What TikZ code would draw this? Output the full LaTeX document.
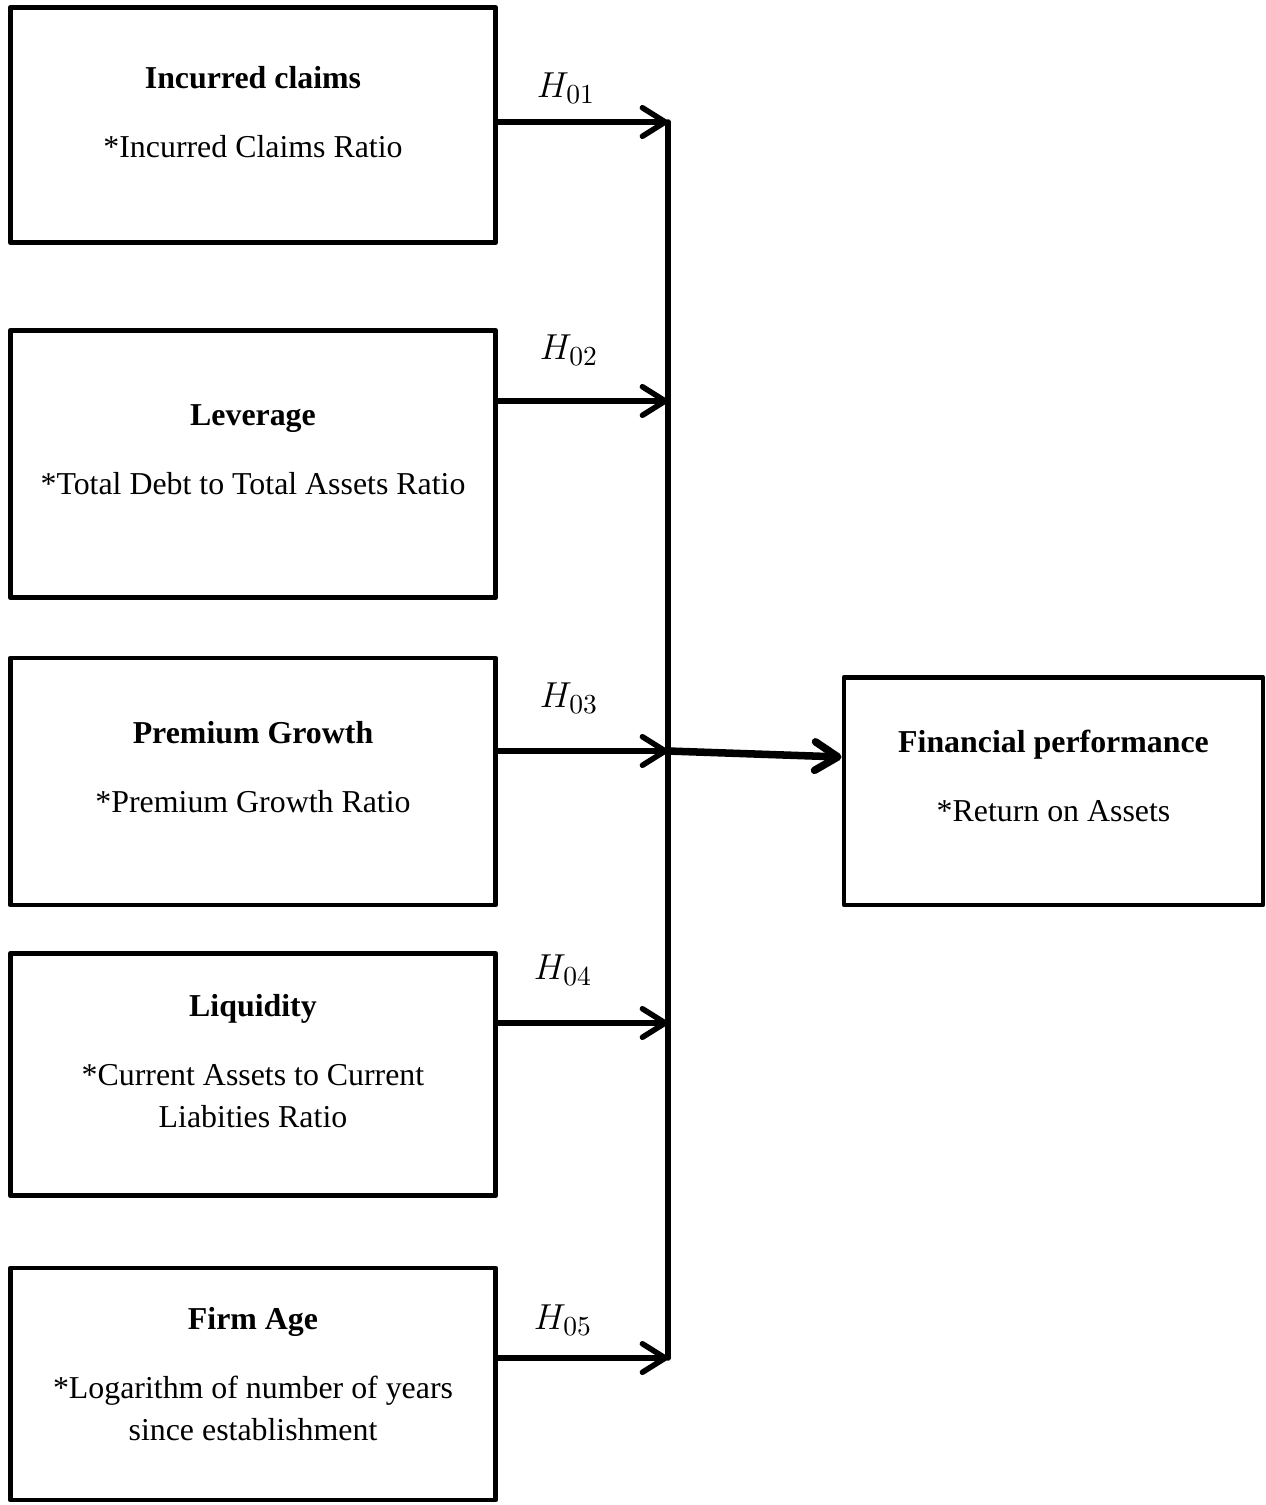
\documentclass[tikz,border=0pt]{standalone}
\usepackage{fontspec}
\setmainfont{Liberation Serif}
\usetikzlibrary{arrows.meta}
\tikzset{
  varbox/.style={draw, line width=1.9pt, rectangle, minimum width=6.80cm, inner sep=0pt},
  boxtext/.style={align=center, font=\fontsize{12.7}{16.6}\selectfont, anchor=north},
  hlabel/.style={font=\fontsize{15}{17}\selectfont},
  link/.style={line width=2.2pt, -{Straight Barb[length=3.2mm, width=4mm, line cap=round, line join=round]}},
}
\begin{document}
\begin{tikzpicture}[x=0.014cm, y=-0.014cm, line cap=round, line join=round]
        \useasboundingbox (0,0) rectangle (1265,1505);
        % 左側の五つの箱
        \node[varbox, minimum height=3.30cm] (claims) at (253,125) {};
        \node[varbox, minimum height=3.75cm] (lev) at (253,464) {};
        \node[varbox, minimum height=3.46cm] (prem) at (253,781.5) {};
        \node[varbox, minimum height=3.40cm] (liq) at (253,1074.5) {};
        \node[varbox, minimum height=3.25cm] (age) at (253,1384) {};
        % 右側の箱
        \node[varbox, minimum width=5.87cm, minimum height=3.19cm] (perf) at (1053.5,791) {};

        % 箱の中の文字
        \node[boxtext] (claimstxt) at (253,58) {\textbf{Incurred claims}\\[10.8pt]*Incurred Claims Ratio};
        \node[boxtext] (levtxt) at (253,396) {\textbf{Leverage}\\[10.8pt]*Total Debt to Total Assets Ratio};
        \node[boxtext] (premtxt) at (253,713) {\textbf{Premium Growth}\\[10.8pt]*Premium Growth Ratio};
        \node[boxtext] (liqtxt) at (253,986) {\textbf{Liquidity}\\[10.8pt]*Current Assets to Current\\Liabities Ratio};
        \node[boxtext] (agetxt) at (253,1299) {\textbf{Firm Age}\\[10.8pt]*Logarithm of number of years\\since establishment};
        \node[boxtext] (perftxt) at (1053.5,721) {\textbf{Financial performance}\\[10.8pt]*Return on Assets};

        % 縦の集約線と合流点
        \coordinate (j1) at (668,122);
        \coordinate (j2) at (668,401);
        \coordinate (j3) at (668,751);
        \coordinate (j4) at (668,1023);
        \coordinate (j5) at (668,1358);
        \draw[line width=2.2pt] (j1) -- (j5);

        % 仮説の矢印
        \draw[link] (claims.east |- j1) -- (j1);
        \draw[link] (lev.east |- j2) -- (j2);
        \draw[link] (prem.east |- j3) -- (j3);
        \draw[link] (liq.east |- j4) -- (j4);
        \draw[link] (age.east |- j5) -- (j5);
        \draw[link, line width=3pt] (j3) -- (perf.west |- 0,757);

        % H ラベル
        \node[hlabel] (h1) at (566,88) {$H_{01}$};
        \node[hlabel] (h2) at (569,350) {$H_{02}$};
        \node[hlabel] (h3) at (569,698) {$H_{03}$};
        \node[hlabel] (h4) at (563,970) {$H_{04}$};
        \node[hlabel] (h5) at (563,1320) {$H_{05}$};
    \end{tikzpicture}
\end{document}
